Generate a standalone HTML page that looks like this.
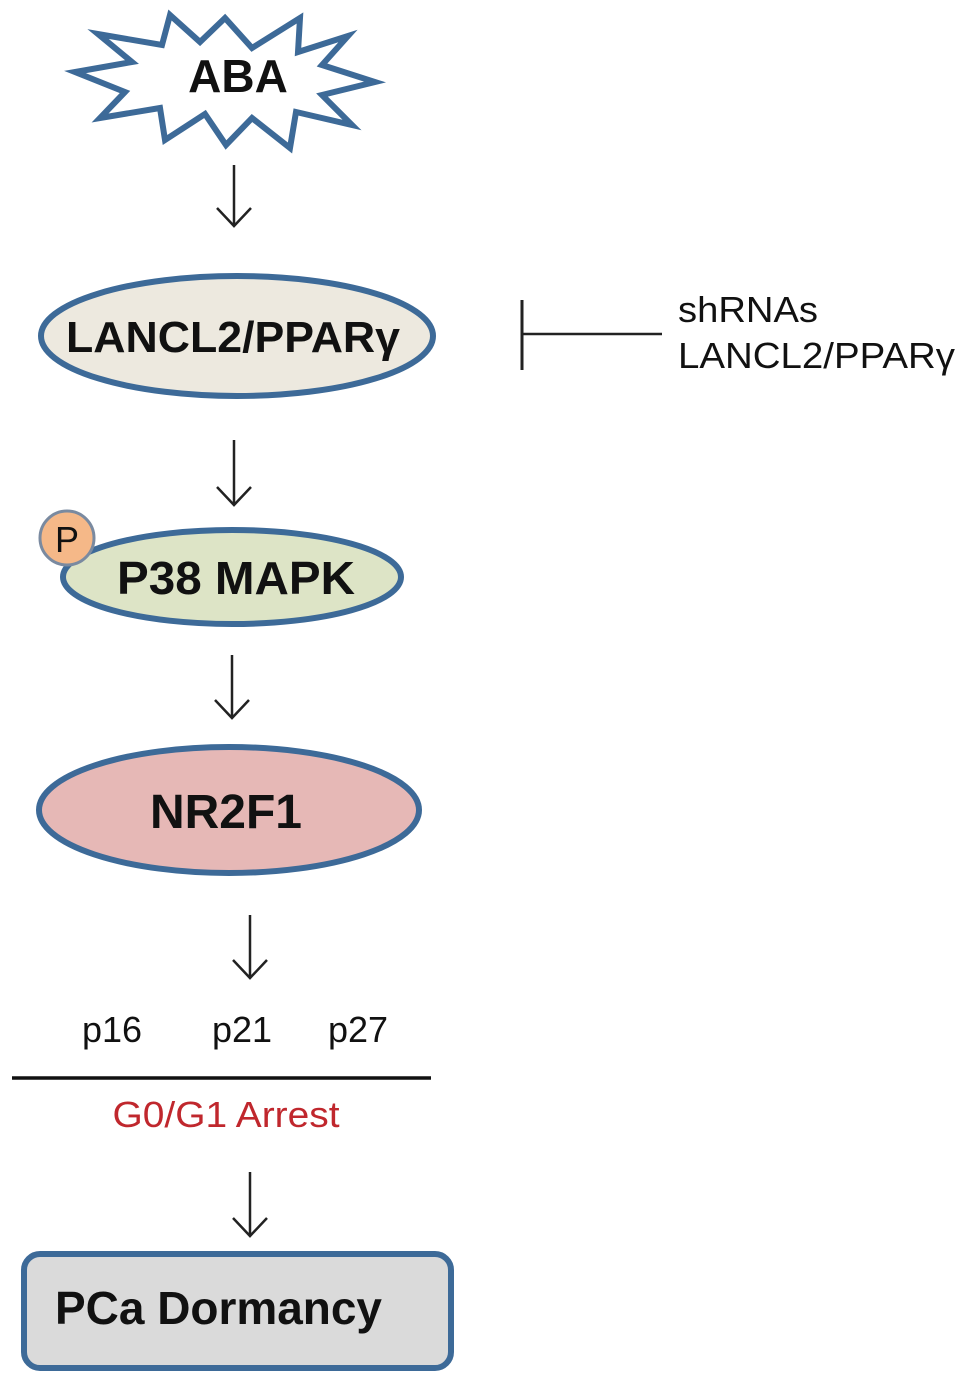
<!DOCTYPE html>
<html><head><meta charset="utf-8"><style>
html,body{margin:0;padding:0;background:#fff;}
svg{display:block;}
text{font-family:"Liberation Sans",sans-serif;}
.b{font-weight:bold;}
</style></head><body>
<svg width="969" height="1384" viewBox="0 0 969 1384" xmlns="http://www.w3.org/2000/svg">
<polygon fill="#fff" stroke="#3d6a98" stroke-width="6" stroke-linejoin="miter"
points="225,18 252,48 300,18 298,52 348,36 322,65 375,82 322,95 352,125 296,112 290,148 252,118 226,145 205,114 165,140 160,108 100,118 125,92 75,72 132,62 98,34 162,45 170,15 200,42"/>
<text x="238" y="92" text-anchor="middle" class="b" font-size="46" fill="#111">ABA</text>

<g stroke="#222" stroke-width="2.5" fill="none">
<path d="M234 165 V226 M217 208 L234 226 L251 208"/>
<path d="M234 440 V505 M217 487 L234 505 L251 487"/>
<path d="M232 655 V718 M215 700 L232 718 L249 700"/>
<path d="M250 915 V978 M233 960 L250 978 L267 960"/>
<path d="M250 1172 V1236 M233 1218 L250 1236 L267 1218"/>
</g>

<ellipse cx="237" cy="336" rx="196" ry="60" fill="#ede9df" stroke="#3d6a98" stroke-width="6"/>
<text x="233" y="352" text-anchor="middle" class="b" font-size="44" textLength="334" lengthAdjust="spacingAndGlyphs" fill="#111">LANCL2/PPARγ</text>

<line x1="522" y1="300" x2="522" y2="370" stroke="#222" stroke-width="3"/>
<line x1="522" y1="334" x2="662" y2="334" stroke="#222" stroke-width="2.5"/>
<text x="678" y="322" font-size="36" textLength="140" lengthAdjust="spacingAndGlyphs" fill="#111">shRNAs</text>
<text x="678" y="368" font-size="36" textLength="277" lengthAdjust="spacingAndGlyphs" fill="#111">LANCL2/PPARγ</text>

<ellipse cx="232" cy="577" rx="169" ry="47" fill="#dde4c6" stroke="#3d6a98" stroke-width="6"/>
<circle cx="67" cy="538" r="27" fill="#f5b888" stroke="#7a8aa0" stroke-width="3"/>
<text x="67" y="552" text-anchor="middle" font-size="36" fill="#111">P</text>
<text x="236" y="594" text-anchor="middle" class="b" font-size="46" textLength="238" lengthAdjust="spacingAndGlyphs" fill="#111">P38 MAPK</text>

<ellipse cx="229" cy="810" rx="190" ry="63" fill="#e6b8b6" stroke="#3d6a98" stroke-width="6"/>
<text x="226" y="828" text-anchor="middle" class="b" font-size="48" textLength="152" lengthAdjust="spacingAndGlyphs" fill="#111">NR2F1</text>

<text x="112" y="1042" text-anchor="middle" font-size="36" fill="#111">p16</text>
<text x="242" y="1042" text-anchor="middle" font-size="36" fill="#111">p21</text>
<text x="358" y="1042" text-anchor="middle" font-size="36" fill="#111">p27</text>
<line x1="12" y1="1078" x2="431" y2="1078" stroke="#111" stroke-width="3.5"/>
<text x="226" y="1127" text-anchor="middle" font-size="36" textLength="227" lengthAdjust="spacingAndGlyphs" fill="#c0272d">G0/G1 Arrest</text>

<rect x="24" y="1254" width="427" height="114" rx="16" ry="16" fill="#dadada" stroke="#3d6a98" stroke-width="6"/>
<text x="55" y="1324" class="b" font-size="46" textLength="327" lengthAdjust="spacingAndGlyphs" fill="#111">PCa Dormancy</text>
</svg>
</body></html>
